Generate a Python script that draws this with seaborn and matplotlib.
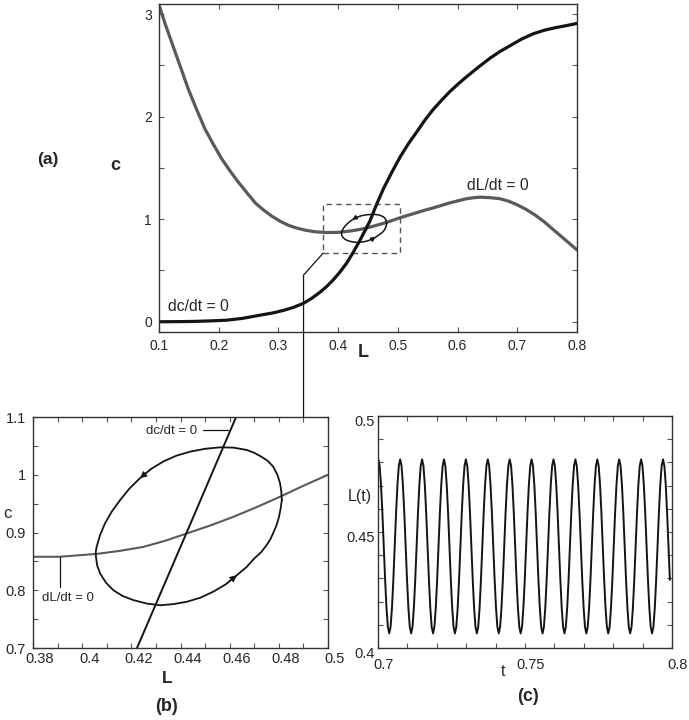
import matplotlib
matplotlib.use('Agg')
import matplotlib.pyplot as plt
from matplotlib.patches import Rectangle
from matplotlib.lines import Line2D
from matplotlib.ticker import MultipleLocator, FormatStrFormatter, FuncFormatter
from matplotlib.transforms import ScaledTranslation
import seaborn as sns
import numpy as np

# ---- data ----
# panel (a): nullclines over the full range
dc_L = [0.10, 0.13, 0.157, 0.185, 0.213, 0.24, 0.269, 0.29, 0.308, 0.325, 0.342, 0.356,
        0.37, 0.381, 0.392, 0.403, 0.414, 0.425, 0.437, 0.445, 0.453, 0.464, 0.476,
        0.49, 0.504, 0.518, 0.532, 0.545, 0.559, 0.573, 0.587, 0.601, 0.615, 0.634,
        0.654, 0.672, 0.69, 0.708, 0.727, 0.746, 0.765, 0.783, 0.80]
dc_c = [0.0, 0.001, 0.003, 0.008, 0.015, 0.033, 0.064, 0.085, 0.11, 0.14, 0.18, 0.23,
        0.29, 0.345, 0.41, 0.485, 0.57, 0.675, 0.80, 0.89, 0.98, 1.14, 1.30,
        1.46, 1.61, 1.74, 1.855, 1.965, 2.07, 2.16, 2.245, 2.32, 2.39, 2.48,
        2.57, 2.64, 2.70, 2.76, 2.81, 2.845, 2.87, 2.89, 2.91]

dL_L = [0.10, 0.11, 0.121, 0.135, 0.149, 0.163, 0.177, 0.191, 0.205, 0.219, 0.233,
        0.247, 0.261, 0.275, 0.289, 0.303, 0.317, 0.33, 0.345, 0.361, 0.381, 0.40,
        0.42, 0.434, 0.448, 0.462, 0.476, 0.49, 0.504, 0.518, 0.532, 0.545, 0.559,
        0.573, 0.587, 0.601, 0.615, 0.627, 0.638, 0.655, 0.671, 0.686, 0.70, 0.715,
        0.73, 0.745, 0.76, 0.77, 0.78, 0.79, 0.80]
dL_c = [3.09, 2.91, 2.73, 2.50, 2.27, 2.07, 1.88, 1.73, 1.59, 1.47, 1.36,
        1.26, 1.16, 1.09, 1.03, 0.98, 0.94, 0.915, 0.893, 0.878, 0.87, 0.872,
        0.885, 0.898, 0.915, 0.937, 0.96, 0.987, 1.015, 1.04, 1.065, 1.088, 1.11,
        1.135, 1.16, 1.18, 1.20, 1.21, 1.215, 1.21, 1.20, 1.175, 1.14, 1.095,
        1.04, 0.975, 0.90, 0.85, 0.80, 0.75, 0.70]

# zoom box drawn in (a)
box_L = (0.375, 0.503)
box_c = (0.67, 1.146)

# panel (b): zoomed nullclines
zdc_L = [0.4223, 0.4425, 0.4626]
zdc_c = [0.70, 0.90, 1.10]
zdL_L = [0.38, 0.391, 0.406, 0.415, 0.4248, 0.434, 0.443, 0.452, 0.4614, 0.471, 0.4805, 0.49, 0.50]
zdL_c = [0.858, 0.858, 0.863, 0.868, 0.875, 0.886, 0.899, 0.912, 0.927, 0.944, 0.962, 0.981, 1.0]

# limit cycle (counter-clockwise, starting at its right-most point)
cyc_L = [0.4812, 0.4810, 0.4805, 0.4794, 0.4777, 0.4755, 0.4730, 0.4700, 0.4669,
         0.4615, 0.4561, 0.4500, 0.4439, 0.4383, 0.4330, 0.4280, 0.4235, 0.4192,
         0.4154, 0.4120, 0.4093, 0.4073, 0.4059, 0.4055, 0.4056, 0.4061, 0.4073,
         0.4097, 0.4127, 0.4165, 0.4208, 0.4262, 0.4317, 0.4371, 0.4425, 0.4480,
         0.4533, 0.4583, 0.4629, 0.4668, 0.4700, 0.4728, 0.4750, 0.4765, 0.4777,
         0.4790, 0.4800, 0.4807, 0.4812]
cyc_c = [0.956, 0.971, 0.985, 1.000, 1.014, 1.024, 1.031, 1.038, 1.043,
         1.047, 1.0475, 1.045, 1.040, 1.033, 1.023, 1.010, 0.994, 0.976,
         0.956, 0.936, 0.916, 0.896, 0.8755, 0.866, 0.858, 0.843, 0.829,
         0.813, 0.800, 0.790, 0.783, 0.777, 0.774, 0.776, 0.780, 0.787,
         0.7975, 0.810, 0.826, 0.840, 0.855, 0.866, 0.878, 0.888, 0.899,
         0.912, 0.926, 0.941, 0.956]
arrow_pts = [(0.4235, 0.994), (0.4629, 0.826)]

# panel (c): one period of L(t) starting at a peak, 16 samples
period_L = [0.4813, 0.4785, 0.4703, 0.4582, 0.4438, 0.4294, 0.4173, 0.4091,
            0.4063, 0.4091, 0.4173, 0.4294, 0.4438, 0.4582, 0.4703, 0.4785]
t_first_peak = 0.7001
period = 0.00745
n_peaks = 14

FONT = ['Liberation Sans', 'DejaVu Sans']
sns.set_style('ticks')
plt.rcParams['font.family'] = FONT

BLACK = '#141414'
GREY = '#5a5a5a'


def style_axes(ax, size):
    for s in ax.spines.values():
        s.set_color('#333333')
        s.set_linewidth(1.0)
    ax.tick_params(which='both', direction='in', top=True, right=True,
                   length=3.5, width=0.8, color='#555555', labelsize=size)


def shift_labels(fig, labels, dx, dy):
    off = ScaledTranslation(dx / 72, dy / 72, fig.dpi_scale_trans)
    for lab in labels:
        lab.set_transform(lab.get_transform() + off)


def draw_arrows(ax, scale):
    for (x, y) in arrow_pts:
        i = cyc_L.index(x)
        ax.annotate('', xy=(x, y), xytext=(cyc_L[i - 1], cyc_c[i - 1]),
                    arrowprops=dict(arrowstyle='-|>', color=BLACK, lw=0.8,
                                    mutation_scale=scale, shrinkA=0, shrinkB=0))


fig = plt.figure(figsize=(6.89, 7.20), dpi=100)

# ---------------- (a) ----------------
ax_a = fig.add_axes([0.2308, 0.5389, 0.6067, 0.4556])
sns.lineplot(x=dL_L, y=dL_c, ax=ax_a, color=GREY, linewidth=2.3, sort=False, estimator=None)
sns.lineplot(x=dc_L, y=dc_c, ax=ax_a, color=BLACK, linewidth=2.3, sort=False, estimator=None)
sns.lineplot(x=cyc_L, y=cyc_c, ax=ax_a, color=BLACK, linewidth=1.1, sort=False, estimator=None)
draw_arrows(ax_a, 7)
ax_a.add_patch(Rectangle((box_L[0], box_c[0]), box_L[1] - box_L[0], box_c[1] - box_c[0],
                         fill=False, edgecolor='#555555', linestyle=(0, (4, 3)), linewidth=1.0))
ax_a.text(0.115, 0.15, 'dc/dt = 0', fontsize=11.3, va='center', ha='left')
ax_a.text(0.667, 1.33, 'dL/dt = 0', fontsize=11.3, va='center', ha='center')
ax_a.set_xlim(0.1, 0.8)
ax_a.set_ylim(-0.1, 3.1)
ax_a.xaxis.set_major_locator(MultipleLocator(0.1))
ax_a.xaxis.set_major_formatter(FormatStrFormatter('%.1f'))
ax_a.yaxis.set_major_locator(MultipleLocator(1))
ax_a.yaxis.set_minor_locator(MultipleLocator(0.5))
ax_a.yaxis.set_major_formatter(FormatStrFormatter('%d'))
style_axes(ax_a, 10)
ax_a.tick_params(axis='x', pad=5)
ax_a.tick_params(axis='y', pad=5)
ax_a.set_xlabel('L', fontsize=13, fontweight='bold', va='center')
ax_a.set_ylabel('c', fontsize=13, fontweight='bold', rotation=0, va='center')
ax_a.xaxis.set_label_coords(0.488, -0.061)
ax_a.yaxis.set_label_coords(-0.105, 0.509)
fig.text(0.0697, 0.778, '(a)', fontsize=12.5, fontweight='bold', ha='center', va='center')

# ---------------- (b) ----------------
ax_b = fig.add_axes([0.0479, 0.10, 0.4282, 0.3208])
sns.lineplot(x=zdL_L, y=zdL_c, ax=ax_b, color=GREY, linewidth=1.5, sort=False, estimator=None)
sns.lineplot(x=zdc_L, y=zdc_c, ax=ax_b, color=BLACK, linewidth=1.4, sort=False, estimator=None)
sns.lineplot(x=cyc_L, y=cyc_c, ax=ax_b, color=BLACK, linewidth=1.3, sort=False, estimator=None)
draw_arrows(ax_b, 10)
ax_b.text(0.4467, 1.076, 'dc/dt = 0', fontsize=9.5, ha='right', va='center')
ax_b.plot([0.449, 0.4595], [1.077, 1.077], color=BLACK, linewidth=0.9)
ax_b.text(0.3837, 0.787, 'dL/dt = 0', fontsize=9.5, ha='left', va='center')
ax_b.plot([0.391, 0.391], [0.858, 0.806], color=BLACK, linewidth=0.9)
ax_b.set_xlim(0.38, 0.5)
ax_b.set_ylim(0.7, 1.1)
ax_b.xaxis.set_major_locator(MultipleLocator(0.02))
ax_b.xaxis.set_minor_locator(MultipleLocator(0.01))
ax_b.yaxis.set_major_locator(MultipleLocator(0.1))
ax_b.yaxis.set_minor_locator(MultipleLocator(0.05))
fmt_g = FuncFormatter(lambda v, p: f'{round(v, 3):g}')
ax_b.xaxis.set_major_formatter(fmt_g)
ax_b.yaxis.set_major_formatter(fmt_g)
style_axes(ax_b, 10.5)
ax_b.tick_params(axis='x', pad=3)
ax_b.tick_params(axis='y', pad=5)
ax_b.set_xlabel('L', fontsize=12.5, fontweight='bold', va='center')
ax_b.set_ylabel('c', fontsize=12, rotation=0, va='center')
ax_b.xaxis.set_label_coords(0.454, -0.13)
ax_b.yaxis.set_label_coords(-0.085, 0.584)
fig.text(0.242, 0.0194, '(b)', fontsize=13, fontweight='bold', ha='center', va='center')

# ---------------- (c) ----------------
idx = np.arange(-2, (n_peaks - 1) * len(period_L) + 6)
t_vals = t_first_peak + idx * period / len(period_L)
L_vals = np.array(period_L)[idx % len(period_L)]
ax_c = fig.add_axes([0.5486, 0.10, 0.4267, 0.3222])
sns.lineplot(x=t_vals, y=L_vals, ax=ax_c, color=BLACK, linewidth=1.4, sort=False, estimator=None)
ax_c.set_xlim(0.7, 0.8)
ax_c.set_ylim(0.4, 0.5)
ax_c.xaxis.set_major_locator(MultipleLocator(0.05))
ax_c.xaxis.set_minor_locator(MultipleLocator(0.01))
ax_c.yaxis.set_major_locator(MultipleLocator(0.05))
ax_c.yaxis.set_minor_locator(MultipleLocator(0.01))
ax_c.xaxis.set_major_formatter(fmt_g)
ax_c.yaxis.set_major_formatter(fmt_g)
style_axes(ax_c, 10.5)
ax_c.tick_params(axis='x', pad=7)
ax_c.tick_params(axis='y', pad=2)
ax_c.set_xlabel('t', fontsize=11.5, va='center')
ax_c.set_ylabel('L(t)', fontsize=11.5, rotation=0, va='center')
ax_c.xaxis.set_label_coords(0.425, -0.103)
ax_c.yaxis.set_label_coords(-0.062, 0.651)
fig.text(0.766, 0.032, '(c)', fontsize=13, fontweight='bold', ha='center', va='center')

# tick labels in the lower panels sit a little right / low of their ticks
shift_labels(fig, ax_b.get_xticklabels(), 5, 0)
shift_labels(fig, ax_c.get_xticklabels(), 4, 0)
shift_labels(fig, ax_c.get_yticklabels(), 0, -3)

# connector from the zoom box in (a) down to panel (b)
to_fig = fig.transFigure.inverted()
p1 = to_fig.transform(ax_a.transData.transform((box_L[0], box_c[0])))
p2 = to_fig.transform(ax_a.transData.transform((0.342, 0.455)))
p3 = (p2[0], to_fig.transform(ax_b.transAxes.transform((0, 1)))[1])
fig.add_artist(Line2D([p1[0], p2[0], p3[0]], [p1[1], p2[1], p3[1]],
                      transform=fig.transFigure, color=BLACK, linewidth=0.9))

fig.savefig('out.png', dpi=100)
plt.close(fig)
